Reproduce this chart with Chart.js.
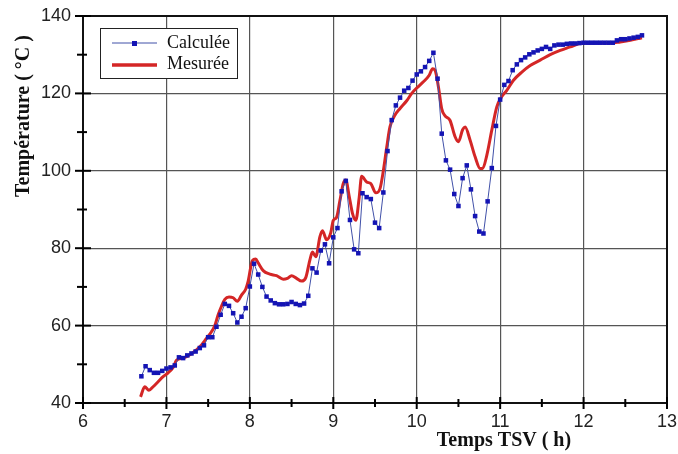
<!DOCTYPE html>
<html><head><meta charset="utf-8">
<script src="https://cdn.jsdelivr.net/npm/chart.js@4/dist/chart.umd.min.js"></script>
<style>html,body{margin:0;padding:0;background:#fff;}#wrap{width:678px;height:454px;position:relative;}</style>
</head><body><div id="wrap"><canvas id="c" width="678" height="454"></canvas></div>
<script>
const seriesNames = ['Calculée', 'Mesurée'];
const xAxisTitle = 'Temps TSV ( h)';
const yAxisTitle = 'Température ( °C )';
const xTickValues = [6, 7, 8, 9, 10, 11, 12, 13];
const yTickValues = [40, 60, 80, 100, 120, 140];

const calcTimes = [6.70,6.75,6.80,6.85,6.90,6.95,7.00,7.05,7.10,7.15,7.20,7.25,7.30,7.35,7.40,7.45,7.50,7.55,7.60,7.65,
 7.70,7.75,7.80,7.85,7.90,7.95,8.00,8.05,8.10,8.15,8.20,8.25,8.30,8.35,8.40,8.45,8.50,8.55,8.60,8.65,
 8.70,8.75,8.80,8.85,8.90,8.95,9.00,9.05,9.10,9.15,9.20,9.25,9.30,9.35,9.40,9.45,9.50,9.55,9.60,9.65,
 9.70,9.75,9.80,9.85,9.90,9.95,10.00,10.05,10.10,10.15,10.20,10.25,10.30,10.35,10.40,10.45,10.50,10.55,10.60,10.65,
 10.70,10.75,10.80,10.85,10.90,10.95,11.00,11.05,11.10,11.15,11.20,11.25,11.30,11.35,11.40,11.45,11.50,11.55,11.60,11.65,
 11.70,11.75,11.80,11.85,11.90,11.95,12.00,12.05,12.10,12.15,12.20,12.25,12.30,12.35,12.40,12.45,12.50,12.55,12.60,12.65,12.70];
const calcValues = [46.9,49.5,48.5,47.8,47.8,48.3,48.9,49.2,49.7,51.8,51.6,52.3,52.8,53.3,54.2,54.9,57.0,57.0,59.7,62.8,
 65.6,65.1,63.2,60.8,62.3,64.5,70.1,76.0,73.2,70.0,67.5,66.5,65.8,65.5,65.5,65.6,66.1,65.6,65.3,65.7,
 67.7,74.8,73.7,79.4,81.0,76.1,82.8,85.2,94.7,97.4,87.3,79.7,78.7,94.2,93.2,92.7,86.6,85.2,94.4,105.1,
 113.1,116.9,118.9,120.7,121.4,123.3,124.9,125.7,126.8,128.4,130.5,123.8,109.6,102.7,100.3,94.0,90.9,98.1,101.4,95.2,
 88.3,84.3,83.8,92.1,100.7,111.6,118.4,122.2,123.2,126.0,127.5,128.6,129.3,130.1,130.6,131.1,131.5,132.0,131.5,132.4,
 132.6,132.6,132.8,132.9,132.9,133.0,133.1,133.1,133.1,133.1,133.1,133.1,133.1,133.1,133.7,134.0,134.0,134.2,134.4,134.6,135.0];

const measTimes = [6.69,6.74,6.79,6.84,6.90,6.96,7.02,7.08,7.12,7.20,7.30,7.40,7.48,7.54,7.58,7.62,7.66,7.70,7.75,7.80,
 7.85,7.90,7.95,7.98,8.03,8.07,8.10,8.16,8.24,8.32,8.40,8.45,8.50,8.56,8.62,8.67,8.72,8.75,8.79,8.84,
 8.87,8.92,8.97,9.00,9.04,9.08,9.12,9.15,9.19,9.23,9.27,9.31,9.34,9.40,9.45,9.51,9.56,9.60,9.64,9.68,
 9.74,9.80,9.88,9.94,10.00,10.08,10.15,10.19,10.22,10.26,10.30,10.34,10.40,10.46,10.50,10.55,10.58,10.64,10.70,10.76,
 10.79,10.84,10.90,10.96,11.02,11.08,11.16,11.26,11.36,11.48,11.60,11.72,11.84,11.94,12.00,12.16,12.32,12.44,12.56,12.70];
const measValues = [41.6,44.2,43.3,44.2,45.5,46.8,47.8,49.2,51.0,51.6,52.7,54.5,56.7,58.4,60.0,62.8,65.0,66.8,67.4,67.2,
 66.3,67.9,69.4,71.5,76.8,77.2,76.2,74.2,73.3,72.9,72.0,72.2,72.9,72.2,71.5,72.4,77.0,79.0,77.8,83.0,
 84.5,82.2,84.0,87.2,88.0,92.4,96.7,97.6,93.5,89.0,87.2,93.0,98.6,97.1,96.7,94.3,95.4,100.0,106.0,111.4,
 114.4,116.1,118.1,120.0,121.4,123.0,124.7,126.4,126.0,121.7,116.0,114.2,113.0,108.8,107.5,110.6,111.3,107.9,103.6,100.6,
 100.6,104.0,110.5,116.5,119.2,120.8,123.4,125.5,127.2,128.6,130.0,131.1,132.0,132.8,133.0,133.1,133.0,133.3,133.7,134.4];

const BLUE = '#1414b4', BLUE_LINE = '#4050a8', RED = '#d42626';
const pts = (xs, ys) => xs.map((x, i) => ({x, y: ys[i]}));

const decorPlugin = {
  id: 'decor',
  beforeDatasetsDraw(chart) {
    const {ctx, chartArea: a} = chart;
    ctx.save();
    ctx.strokeStyle = '#111';
    ctx.lineWidth = 2;
    ctx.strokeRect(a.left, a.top, a.right - a.left, a.bottom - a.top);
    ctx.restore();
  },
  afterDraw(chart) {
    const {ctx, chartArea: a, scales} = chart;
    const xs = scales.x, ys = scales.y;
    ctx.save();
    ctx.strokeStyle = '#000';
    ctx.lineWidth = 2;
    for (let i = 0; i < yTickValues.length; i++) {
      const v = yTickValues[i];
      let y = ys.getPixelForValue(v);
      ctx.beginPath(); ctx.moveTo(a.left - 8, y); ctx.lineTo(a.left + 8, y); ctx.stroke();
      if (i < yTickValues.length - 1) {
        const m = (v + yTickValues[i + 1]) / 2;
        y = ys.getPixelForValue(m);
        ctx.beginPath(); ctx.moveTo(a.left - 6, y); ctx.lineTo(a.left + 4, y); ctx.stroke();
      }
    }
    for (let i = 0; i < xTickValues.length; i++) {
      const v = xTickValues[i];
      let x = xs.getPixelForValue(v);
      ctx.beginPath(); ctx.moveTo(x, a.bottom - 6); ctx.lineTo(x, a.bottom + 6); ctx.stroke();
      if (i < xTickValues.length - 1) {
        const m = (v + xTickValues[i + 1]) / 2;
        x = xs.getPixelForValue(m);
        ctx.beginPath(); ctx.moveTo(x, a.bottom - 4); ctx.lineTo(x, a.bottom + 4); ctx.stroke();
      }
    }
    ctx.fillStyle = '#111';
    ctx.font = 'bold 20px "Liberation Serif", serif';
    ctx.textAlign = 'center';
    ctx.textBaseline = 'middle';
    ctx.fillText(xAxisTitle, 504, 441);
    ctx.save();
    ctx.translate(24, 116);
    ctx.rotate(-Math.PI / 2);
    ctx.fillText(yAxisTitle, 0, 0);
    ctx.restore();
    ctx.fillStyle = '#fff';
    ctx.fillRect(100, 28, 137, 50);
    ctx.strokeStyle = '#222';
    ctx.lineWidth = 1;
    ctx.strokeRect(100.5, 28.5, 137, 50);
    ctx.strokeStyle = BLUE_LINE; ctx.lineWidth = 1;
    ctx.beginPath(); ctx.moveTo(112, 43); ctx.lineTo(157, 43); ctx.stroke();
    ctx.fillStyle = BLUE; ctx.fillRect(132, 41, 5, 5);
    ctx.strokeStyle = RED; ctx.lineWidth = 3.5;
    ctx.beginPath(); ctx.moveTo(112, 65); ctx.lineTo(157, 65); ctx.stroke();
    ctx.fillStyle = '#111';
    ctx.font = '18px "Liberation Serif", serif';
    ctx.textAlign = 'left';
    ctx.fillText(seriesNames[0], 167, 43);
    ctx.fillText(seriesNames[1], 167, 64);
    ctx.restore();
  }
};

new Chart(document.getElementById('c'), {
  type: 'scatter',
  data: {
    datasets: [
      {label: seriesNames[0], data: pts(calcTimes, calcValues), showLine: true,
       borderColor: BLUE_LINE, borderWidth: 1, pointStyle: 'rect', pointRadius: 3.2,
       pointBackgroundColor: BLUE, pointBorderColor: BLUE, pointBorderWidth: 0},
      {label: seriesNames[1], data: pts(measTimes, measValues), showLine: true,
       borderColor: RED, borderWidth: 3, pointRadius: 0, tension: 0.3, cubicInterpolationMode: 'monotone'}
    ]
  },
  options: {
    responsive: false, animation: false, devicePixelRatio: 1,
    layout: {padding: {left: 0, top: 16, right: 11, bottom: 0}},
    plugins: {legend: {display: false}, tooltip: {enabled: false}},
    scales: {
      x: {
        type: 'linear', min: 6, max: 13,
        afterBuildTicks: s => { s.ticks = xTickValues.map(v => ({value: v})); },
        afterFit: s => { s.height = 51; s.paddingLeft = 0; s.paddingRight = 0; },
        grid: {color: '#555', lineWidth: 1.2, drawTicks: false},
        border: {display: false},
        ticks: {padding: 8, color: '#222', font: {family: '"Liberation Sans", Arial, sans-serif', size: 18}}
      },
      y: {
        min: 40, max: 140,
        afterBuildTicks: s => { s.ticks = yTickValues.map(v => ({value: v})); },
        afterFit: s => { s.width = 83; s.paddingTop = 0; s.paddingBottom = 0; },
        grid: {color: '#555', lineWidth: 1.2, drawTicks: false},
        border: {display: false},
        ticks: {padding: 12, color: '#222', font: {family: '"Liberation Sans", Arial, sans-serif', size: 18}}
      }
    }
  },
  plugins: [decorPlugin]
});
</script></body></html>
